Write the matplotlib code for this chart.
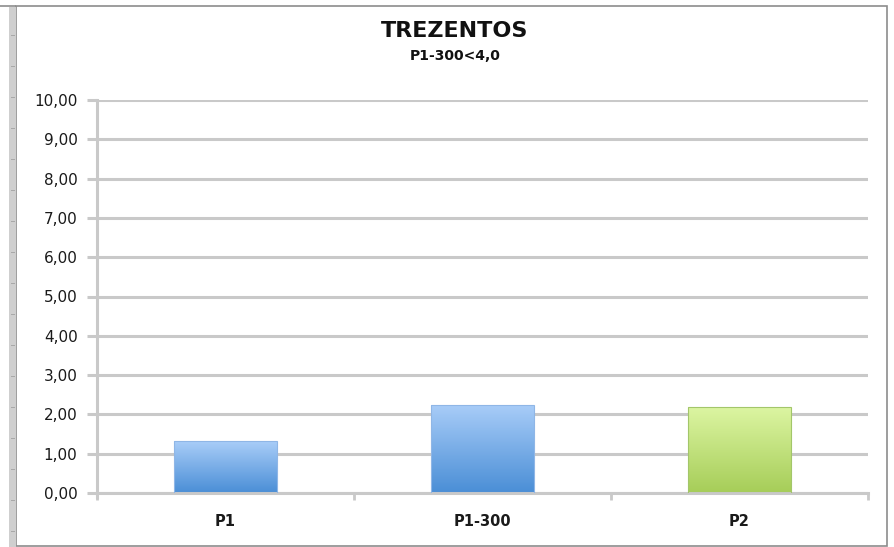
import matplotlib
matplotlib.use("Agg")
import matplotlib.pyplot as plt
import numpy as np
from matplotlib.colors import LinearSegmentedColormap
from matplotlib.patches import Rectangle

title = "TREZENTOS"
subtitle = "P1-300<4,0"
categories = ["P1", "P1-300", "P2"]
values = [1.32, 2.24, 2.18]
# top / bottom gradient colours per bar
bar_colors = [
    ("#a9cdf8", "#4a8ed6"),
    ("#a9cdf8", "#4a8ed6"),
    ("#dcf5a2", "#a6cd58"),
]
edge_colors = ["#8fb6e6", "#8fb6e6", "#a3c66a"]

W, H = 895, 547
GRID = "#c9c9c9"

plt.rcParams.update({"font.family": ["DejaVu Sans"]})

fig = plt.figure(figsize=(W / 100, H / 100), dpi=100)
fig.patch.set_facecolor("white")

# outer chart frame
fig.add_artist(Rectangle((16 / W, 1 - 546 / H), (887 - 16) / W, (546 - 6) / H,
                         transform=fig.transFigure, fill=False,
                         edgecolor="#8c8c8c", linewidth=1.2))
fig.add_artist(Rectangle((0, 1 - 6 / H), 16 / W, 0, transform=fig.transFigure,
                         fill=False, edgecolor="#8c8c8c", linewidth=1.2))
# grey strip on the left edge
fig.add_artist(Rectangle((9 / W, 0), 7 / W, 1 - 7 / H, transform=fig.transFigure,
                         facecolor="#cfcfcf", edgecolor="none"))
for yy in np.arange(36, 547, 31):
    fig.add_artist(Rectangle((11 / W, 1 - yy / H), 4 / W, 1.2 / H,
                             transform=fig.transFigure, facecolor="#a8a8a8",
                             edgecolor="none"))

ax = fig.add_axes([97 / W, 1 - 493 / H, 771 / W, 393 / H])

x = np.arange(len(categories))
width = 0.4
for xi, v, (ctop, cbot), ec in zip(x, values, bar_colors, edge_colors):
    rect = ax.bar(xi, v, width, color="none", edgecolor=ec, linewidth=0.8, zorder=3)[0]
    cmap = LinearSegmentedColormap.from_list("g", [cbot, ctop])
    grad = np.linspace(0, 1, 256).reshape(-1, 1)
    im = ax.imshow(grad, cmap=cmap, aspect="auto", origin="lower",
                   extent=(xi - width / 2, xi + width / 2, 0, v), zorder=2)
    im.set_clip_path(rect)
ax.set_xlim(-0.5, len(categories) - 0.5)
ax.set_ylim(0, 10)

ax.set_yticks(np.arange(0, 11, 1))
ax.set_yticklabels([f"{t:.2f}".replace(".", ",") for t in range(11)],
                   fontsize=11, color="#1a1a1a")
ax.yaxis.grid(True, color=GRID, linewidth=2.2, zorder=0)
ax.set_axisbelow(True)

ax.set_xticks(x)
ax.set_xticklabels(categories, fontsize=10.5, fontweight="bold", color="#1a1a1a")
ax.set_xticks(np.arange(-0.5, len(categories)), minor=True)
ax.tick_params(axis="x", which="major", length=0, pad=15)
ax.tick_params(axis="x", which="minor", length=5, width=2, color=GRID)
ax.tick_params(axis="y", length=7, width=2.2, color=GRID, pad=7)

for side in ["top", "right"]:
    ax.spines[side].set_visible(False)
ax.spines["left"].set_color(GRID)
ax.spines["left"].set_linewidth(2.2)
ax.spines["left"].set_bounds(-0.1, 10)
ax.spines["bottom"].set_color(GRID)
ax.spines["bottom"].set_linewidth(2.2)

fig.text(455 / W, 1 - 31 / H, title, ha="center", va="center",
         fontsize=16, fontweight="bold", color="#111111")
fig.text(455 / W, 1 - 56 / H, subtitle, ha="center", va="center",
         fontsize=10, fontweight="bold", color="#111111")

fig.savefig("out.png", dpi=100)
